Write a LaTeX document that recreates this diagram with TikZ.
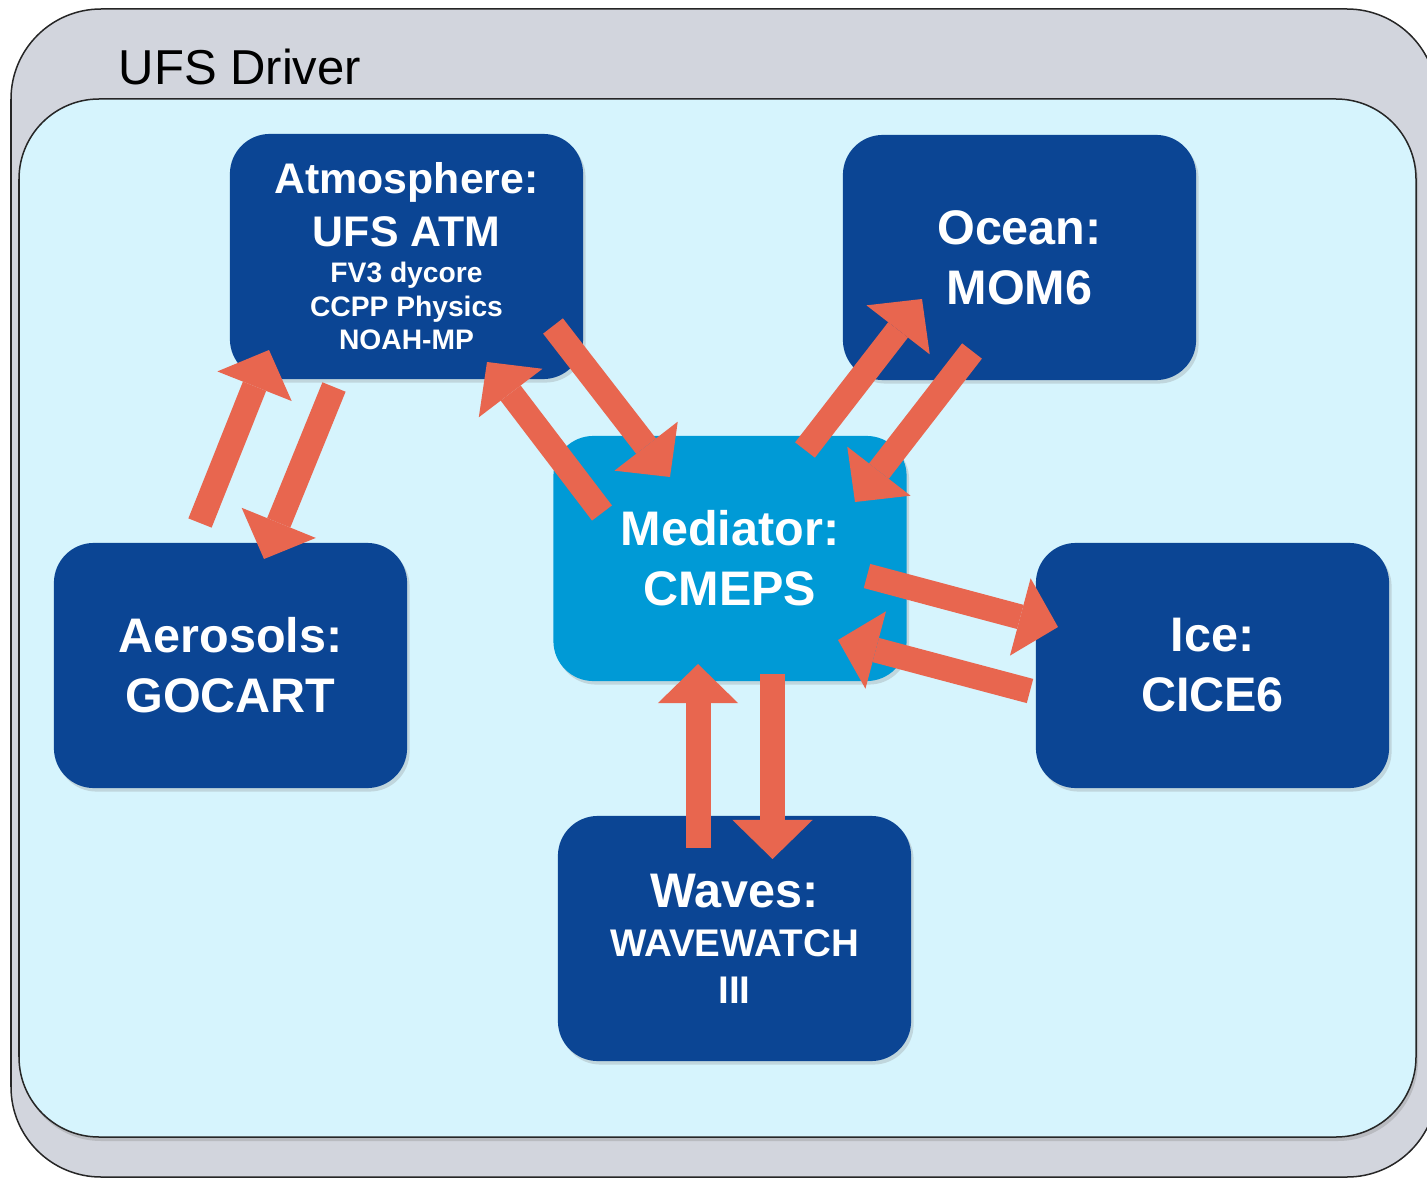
\documentclass[tikz,border=0pt]{standalone}
\usepackage{fontspec}
\setmainfont{Liberation Sans}
\usetikzlibrary{arrows.meta,shadows}
\definecolor{drivergray}{HTML}{D2D5DD}
\definecolor{couplersky}{HTML}{D6F4FD}
\definecolor{compblue}{HTML}{0B4594}
\definecolor{medblue}{HTML}{009AD6}
\definecolor{flowred}{HTML}{E8664F}
\tikzset{
  frame/.style={draw=black!85, line width=0.15mm},
  comp/.style={rounded corners=4mm, fill=compblue, text=white, align=center, inner sep=0pt,
    minimum width=35.3mm, minimum height=24.5mm, font=\bfseries\fontsize{4.85mm}{6mm}\selectfont,
    drop shadow={shadow xshift=0.25mm, shadow yshift=-0.35mm, opacity=0.25}},
  medbox/.style={comp, fill=medblue},
  flow/.style={draw=flowred, line width=2.5mm, -{Triangle[width=8mm, length=3.9mm, line width=0pt]}}
}

\begin{document}
\begin{tikzpicture}[x=0.01cm,y=-0.01cm]
  \useasboundingbox (0,0) rectangle (1427,1179);
  % driver and coupled system
  \begin{scope}
    \clip (0,0) rectangle (1427,1179);
    \draw[frame, fill=drivergray, rounded corners=9mm] (11,9) rectangle (1437,1177);
  \end{scope}
  \draw[frame, fill=couplersky, rounded corners=8mm,
    drop shadow={shadow xshift=0.2mm, shadow yshift=-0.4mm, opacity=0.3}] (19,99) rectangle (1416,1137);
  \node[anchor=base west, inner sep=0pt, font=\fontsize{4.9mm}{6mm}\selectfont] (driver) at (118,85) {UFS Driver};

  % components
  \node[comp, font=\bfseries\fontsize{4.28mm}{5.3mm}\selectfont] (atm) at (406.5,256.5)
    {Atmosphere:\\UFS ATM\\[-1.7mm]
     {\fontsize{2.82mm}{3mm}\selectfont FV3 dycore}\\[-1.95mm]
     {\fontsize{2.82mm}{3mm}\selectfont CCPP Physics}\\[-1.95mm]
     {\fontsize{2.82mm}{3mm}\selectfont NOAH-MP}};
  \node[comp] (ocn) at (1019.5,257.5) {Ocean:\\MOM6};
  \node[medbox] (med) at (730,558.5) {Mediator:\\CMEPS};
  \node[comp] (aer) at (230.5,665.5) {Aerosols:\\GOCART};
  \node[comp] (ice) at (1212.5,665.5) {Ice:\\CICE6};
  \node[comp] (wav) at (734.5,938.5)
    {Waves:\\[-1.1mm]
     {\fontsize{3.85mm}{4mm}\selectfont WAVEWATCH}\\[-1.3mm]
     {\fontsize{3.85mm}{4mm}\selectfont III}};

  % exchange points
  \coordinate (aer2atmS) at (200,523);   \coordinate (aer2atmE) at (269,350);
  \coordinate (atm2aerS) at (334,387);   \coordinate (atm2aerE) at (264,559);
  \coordinate (med2atmS) at (602,513);   \coordinate (med2atmE) at (487,362);
  \coordinate (atm2medS) at (553,326);   \coordinate (atm2medE) at (670,477);
  \coordinate (med2ocnS) at (805,450);   \coordinate (med2ocnE) at (922,299);
  \coordinate (ocn2medS) at (972,351);   \coordinate (ocn2medE) at (855,502);
  \coordinate (med2iceS) at (867,576);   \coordinate (med2iceE) at (1058,627);
  \coordinate (ice2medS) at (1030,691);  \coordinate (ice2medE) at (838,640);
  \coordinate (wav2medS) at (698,848);   \coordinate (wav2medE) at (698,664);
  \coordinate (med2wavS) at (772.5,674); \coordinate (med2wavE) at (772.5,859);

  \foreach \pair in {aer2atm,atm2aer,med2atm,atm2med,med2ocn,ocn2med,med2ice,ice2med,wav2med,med2wav}
    \draw[flow] (\pair S) -- (\pair E);
\end{tikzpicture}
\end{document}
